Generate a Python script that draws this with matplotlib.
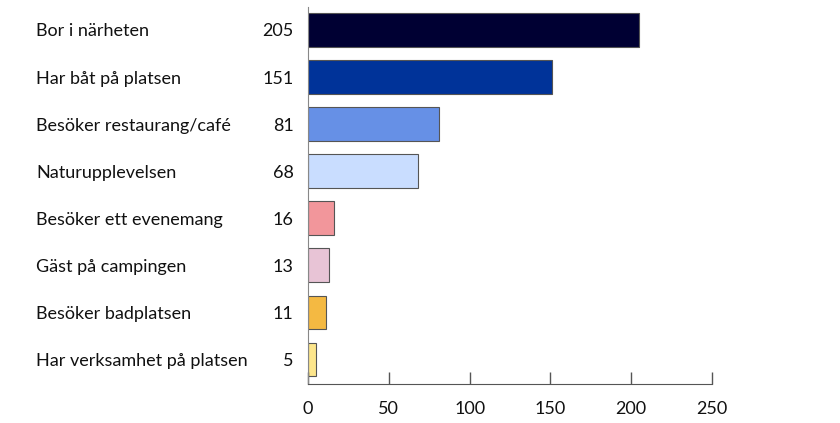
import matplotlib
matplotlib.use("Agg")
import matplotlib.pyplot as plt
import matplotlib.transforms as mtransforms

categories = [
    "Bor i närheten",
    "Har båt på platsen",
    "Besöker restaurang/café",
    "Naturupplevelsen",
    "Besöker ett evenemang",
    "Gäst på campingen",
    "Besöker badplatsen",
    "Har verksamhet på platsen",
]
values = [205, 151, 81, 68, 16, 13, 11, 5]
colors = ["#000033", "#003399", "#6690e6", "#c9ddff",
          "#f2969b", "#e8c4d6", "#f4b942", "#fde68c"]
xticks = [0, 50, 100, 150, 200, 250]

plt.rcParams["font.family"] = ["Lato", "DejaVu Sans"]

fig = plt.figure(figsize=(8.4, 4.23), dpi=100)
ax = fig.add_axes([308 / 840, 1 - 384 / 423, 404 / 840, 377 / 423])

pos = list(range(len(categories)))
ax.barh(pos, values, height=0.72, color=colors, edgecolor="#555555", linewidth=0.8)

ax.set_xlim(0, 250)
ax.set_ylim(7.52, -0.49)
ax.set_xticks(xticks)
ax.set_xticklabels([str(t) for t in xticks], fontsize=13, color="#111111")
ax.tick_params(axis="x", direction="in", length=9, width=1, color="#555555", pad=12)
ax.set_yticks([])

for s in ["top", "right"]:
    ax.spines[s].set_visible(False)
ax.spines["left"].set_color("#888888")
ax.spines["bottom"].set_color("#555555")

# category labels: x in figure coords, y in data coords
label_tf = mtransforms.blended_transform_factory(fig.transFigure, ax.transData)
for p, cat, v in zip(pos, categories, values):
    ax.text(36 / 840, p + 0.03, cat, transform=label_tf, fontsize=13,
            ha="left", va="center", color="#111111")
    ax.text(-9, p + 0.03, str(v), ha="right", va="center", fontsize=13, color="#111111",
            clip_on=False)

fig.savefig("out.png", dpi=100)
